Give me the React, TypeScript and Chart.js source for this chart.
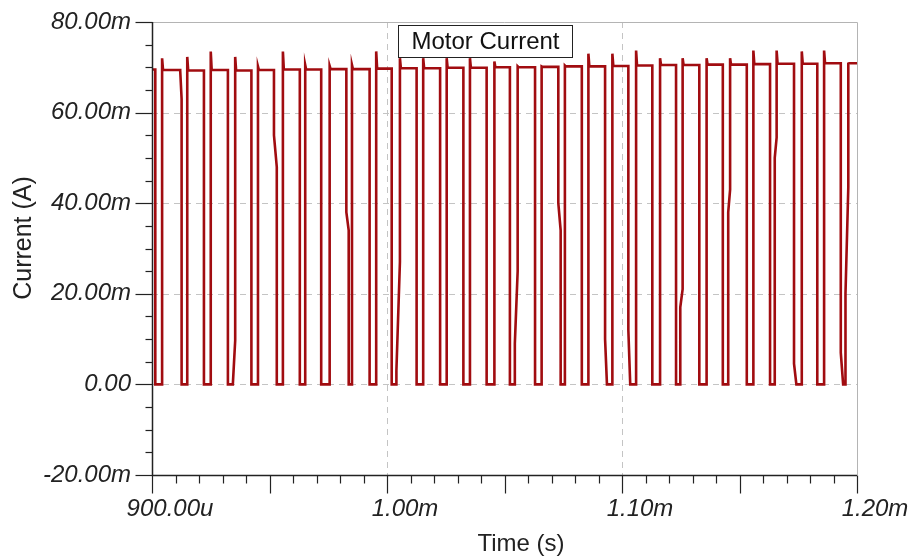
import React, { useEffect, useRef } from 'react';
import { Chart, registerables } from 'chart.js';

Chart.register(...registerables);

// Time in microseconds, current in milliamps
const X_MIN = 900;
const X_MAX = 1200;
const Y_MIN = -20;
const Y_MAX = 80;

const xTickValues = [900, 1000, 1100, 1200];
const xTickLabels = ['900.00u', '1.00m', '1.10m', '1.20m'];
const yTickValues = [-20, 0, 20, 40, 60, 80];
const yTickLabels = ['-20.00m', '0.00', '20.00m', '40.00m', '60.00m', '80.00m'];

const startLevel = 69.5;
const fallTimes = [901.4, 912.0, 922.1, 932.3, 942.3, 951.9, 962.9, 972.0, 982.7, 992.6, 1002.0, 1012.6, 1022.6, 1032.5, 1042.4, 1052.3, 1063.0, 1072.9, 1082.9, 1092.8, 1102.7, 1112.9, 1123.0, 1132.9, 1142.9, 1153.1, 1163.0, 1173.2, 1183.1, 1193.1];
const riseTimes = [904.3, 915.0, 925.0, 935.4, 945.1, 955.7, 965.2, 975.6, 985.1, 995.4, 1005.5, 1015.4, 1025.4, 1035.3, 1045.7, 1055.6, 1065.8, 1075.7, 1085.7, 1095.9, 1106.0, 1116.2, 1125.8, 1136.0, 1146.0, 1155.9, 1165.8, 1176.5, 1186.0, 1196.3];
const spikePeaks = [72, 72.3, 73.5, 72.3, 70.2, 73.5, 70.5, 70.3, 70.5, 73.5, 72, 72, 72, 72, 71.3, 70.2, 70.2, 70.4, 73, 73, 73.7, 72, 72, 72, 72, 73.7, 73.7, 73.5, 73.7, 70.8];
const settleLevels = [69.4, 69.3, 69.4, 69.3, 69.4, 69.5, 69.5, 69.6, 69.6, 69.7, 69.8, 69.8, 69.9, 69.9, 70.0, 70.0, 70.1, 70.2, 70.2, 70.3, 70.4, 70.5, 70.5, 70.6, 70.6, 70.7, 70.8, 70.8, 70.9, 70.9];

// Slow segments on some edges: pulse number, edge, level from, level to, duration (us)
const kinkPulse = [2, 4, 6, 9, 11, 16, 18, 20, 21, 23, 25, 27, 28, 30, 30];
const kinkEdge = ['f', 'r', 'f', 'f', 'r', 'r', 'f', 'f', 'f', 'r', 'r', 'r', 'f', 'f', 'r'];
const kinkFrom = [69.3, 0, 55, 38, 3, 9, 40, 10, 12, 17, 38, 50, 4.6, 7, 20];
const kinkTo = [63, 9.7, 48, 34, 27, 25, 34, 0, 0, 21, 43, 54.5, 0, 0, 43.5];
const kinkDur = [0.6, 1.0, 1.2, 1.0, 1.5, 1.2, 1.0, 0.8, 0.8, 1.0, 0.8, 0.8, 1.0, 1.0, 1.2];

function findKink(pulse: number, edge: string) {
  for (let k = 0; k < kinkPulse.length; k++) {
    if (kinkPulse[k] === pulse && kinkEdge[k] === edge) return k;
  }
  return -1;
}

function buildTrace() {
  const pts: { x: number; y: number }[] = [];
  pts.push({ x: X_MIN, y: startLevel });
  let top = startLevel;
  for (let i = 0; i < fallTimes.length; i++) {
    const tf = fallTimes[i];
    const tr = riseTimes[i];
    pts.push({ x: tf, y: top });
    const kf = findKink(i + 1, 'f');
    if (kf >= 0) {
      pts.push({ x: tf, y: kinkFrom[kf] });
      pts.push({ x: tf + kinkDur[kf], y: kinkTo[kf] });
      pts.push({ x: tf + kinkDur[kf], y: 0 });
    } else {
      pts.push({ x: tf, y: 0 });
    }
    const kr = findKink(i + 1, 'r');
    if (kr >= 0) {
      pts.push({ x: tr - kinkDur[kr], y: 0 });
      pts.push({ x: tr - kinkDur[kr], y: kinkFrom[kr] });
      pts.push({ x: tr, y: kinkTo[kr] });
    } else {
      pts.push({ x: tr, y: 0 });
    }
    pts.push({ x: tr, y: spikePeaks[i] });
    top = settleLevels[i];
    pts.push({ x: tr + 0.4, y: top });
  }
  pts.push({ x: X_MAX, y: top });
  return pts;
}

const FONT = '"Liberation Sans", Arial, sans-serif';

const decorPlugin = {
  id: 'decor',
  beforeDatasetsDraw(chart: any) {
    const { ctx, chartArea: a, scales } = chart;
    const xs = scales.x;
    const ys = scales.y;
    ctx.save();
    ctx.lineWidth = 1;
    ctx.strokeStyle = '#c4c4c4';
    ctx.setLineDash([6, 5]);
    for (const v of xTickValues) {
      if (v === X_MIN || v === X_MAX) continue;
      const px = Math.round(xs.getPixelForValue(v)) + 0.5;
      ctx.beginPath();
      ctx.moveTo(px, a.top);
      ctx.lineTo(px, a.bottom);
      ctx.stroke();
    }
    for (const v of yTickValues) {
      if (v === Y_MIN || v === Y_MAX) continue;
      const py = Math.round(ys.getPixelForValue(v)) + 0.5;
      ctx.beginPath();
      ctx.moveTo(a.left, py);
      ctx.lineTo(a.right, py);
      ctx.stroke();
    }
    ctx.setLineDash([]);
    ctx.strokeStyle = '#b4b4b4';
    ctx.beginPath();
    ctx.moveTo(a.left, Math.round(a.top) + 0.5);
    ctx.lineTo(Math.round(a.right) + 0.5, Math.round(a.top) + 0.5);
    ctx.lineTo(Math.round(a.right) + 0.5, a.bottom);
    ctx.stroke();
    ctx.restore();
  },
  afterDatasetsDraw(chart: any) {
    const { ctx, chartArea: a, scales } = chart;
    const xs = scales.x;
    const ys = scales.y;
    ctx.save();
    ctx.strokeStyle = '#222';
    ctx.lineWidth = 1.5;
    const lx = Math.round(a.left) + 0.5;
    const by = Math.round(a.bottom) + 0.5;
    ctx.beginPath();
    ctx.moveTo(lx, a.top);
    ctx.lineTo(lx, by);
    ctx.lineTo(a.right, by);
    ctx.stroke();
    ctx.lineWidth = 1.2;
    for (let v = Y_MIN; v <= Y_MAX; v += 5) {
      const py = Math.round(ys.getPixelForValue(v)) + 0.5;
      const len = v % 20 === 0 ? 17 : 7;
      ctx.beginPath();
      ctx.moveTo(lx - len, py);
      ctx.lineTo(lx, py);
      ctx.stroke();
    }
    for (let v = X_MIN; v <= X_MAX; v += 10) {
      const px = Math.round(xs.getPixelForValue(v)) + 0.5;
      const len = v % 50 === 0 ? 18 : 8;
      ctx.beginPath();
      ctx.moveTo(px, by);
      ctx.lineTo(px, by + len);
      ctx.stroke();
    }
    // title box
    const bx = 398.5, bw = 174, btop = 25.5, bh = 32;
    ctx.fillStyle = '#fff';
    ctx.fillRect(bx, btop, bw, bh);
    ctx.strokeStyle = '#222';
    ctx.lineWidth = 1;
    ctx.strokeRect(bx, btop, bw, bh);
    ctx.fillStyle = '#111';
    ctx.font = `24px ${FONT}`;
    ctx.textAlign = 'center';
    ctx.textBaseline = 'middle';
    ctx.fillText('Motor Current', bx + bw / 2, btop + bh / 2 + 1);
    // axis titles
    ctx.fillStyle = '#222';
    ctx.fillText('Time (s)', 521, 544);
    ctx.font = `25px ${FONT}`;
    ctx.translate(24, 238);
    ctx.rotate(-Math.PI / 2);
    ctx.fillText('Current (A)', 0, 0);
    ctx.restore();
  },
};

export default function App() {
  const canvasRef = useRef<HTMLCanvasElement | null>(null);

  useEffect(() => {
    document.body.style.margin = '0';
    const canvas = canvasRef.current;
    if (!canvas) return;
    const chart = new Chart(canvas, {
      type: 'scatter',
      data: {
        datasets: [
          {
            label: 'Motor Current',
            data: buildTrace(),
            showLine: true,
            borderColor: '#a10c10',
            borderWidth: 2.6,
            pointRadius: 0,
            fill: false,
            tension: 0,
          },
        ],
      },
      options: {
        animation: false,
        responsive: false,
        devicePixelRatio: 1,
        layout: { padding: { top: 22, right: 55, left: 0, bottom: 0 } },
        plugins: {
          legend: { display: false },
          tooltip: { enabled: false },
          title: { display: false },
        },
        scales: {
          x: {
            type: 'linear',
            min: X_MIN,
            max: X_MAX,
            grid: { display: false, drawTicks: false },
            border: { display: false },
            afterBuildTicks: (scale: any) => {
              scale.ticks = xTickValues.map((v) => ({ value: v }));
            },
            afterFit: (scale: any) => {
              scale.height = 81;
              scale.paddingLeft = 0;
              scale.paddingRight = 0;
            },
            ticks: {
              autoSkip: false,
              maxRotation: 0,
              padding: 20,
              labelOffset: 18,
              color: '#222',
              font: { family: FONT, size: 24, style: 'italic' },
              callback: (v: any) => {
                const idx = xTickValues.indexOf(Number(v));
                return idx >= 0 ? xTickLabels[idx] : '';
              },
            },
          },
          y: {
            type: 'linear',
            min: Y_MIN,
            max: Y_MAX,
            grid: { display: false, drawTicks: false },
            border: { display: false },
            afterBuildTicks: (scale: any) => {
              scale.ticks = yTickValues.map((v) => ({ value: v }));
            },
            afterFit: (scale: any) => {
              scale.width = 152;
              scale.paddingTop = 0;
              scale.paddingBottom = 0;
            },
            ticks: {
              autoSkip: false,
              padding: 21,
              color: '#222',
              font: { family: FONT, size: 24, style: 'italic' },
              callback: (v: any) => {
                const idx = yTickValues.indexOf(Number(v));
                return idx >= 0 ? yTickLabels[idx] : '';
              },
            },
          },
        },
      },
      plugins: [decorPlugin],
    } as any);
    return () => {
      chart.destroy();
    };
  }, []);

  return (
    <div style={{ width: 912, height: 556, background: '#fff' }}>
      <canvas ref={canvasRef} width={912} height={556} />
    </div>
  );
}
